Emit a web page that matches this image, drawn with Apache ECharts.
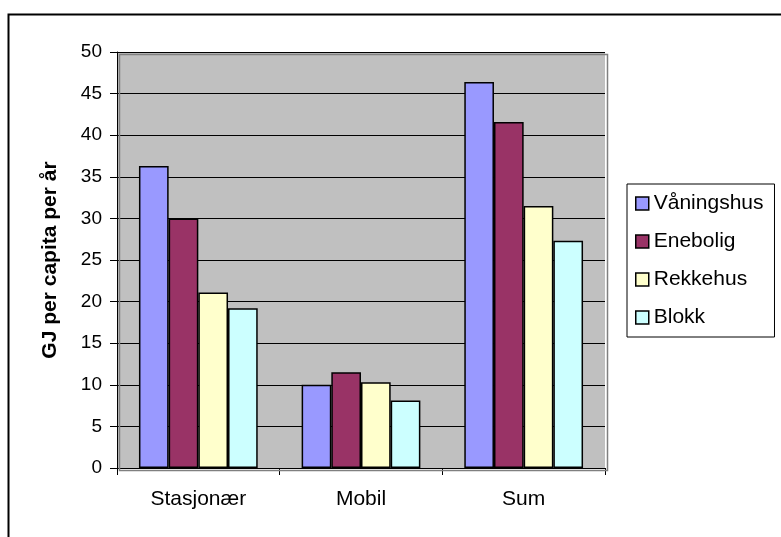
<!DOCTYPE html>
<html>
<head>
<meta charset="utf-8">
<script src="https://cdn.jsdelivr.net/npm/echarts@6/dist/echarts.min.js"></script>
<style>html,body{margin:0;padding:0;background:#fff;}#c{width:781px;height:537px;}</style>
</head>
<body>
<div id="c"></div>
<script>
const categories = ['Stasjonær', 'Mobil', 'Sum'];
const seriesNames = ['Våningshus', 'Enebolig', 'Rekkehus', 'Blokk'];
const vaaningshus = [36.3, 10.0, 46.4];
const enebolig = [30.0, 11.5, 41.6];
const rekkehus = [21.1, 10.3, 31.5];
const blokk = [19.2, 8.1, 27.3];
const seriesValues = [vaaningshus, enebolig, rekkehus, blokk];
const colors = ['#9999FF', '#993366', '#FFFFCC', '#CCFFFF'];
const yAxisName = 'GJ per capita per år';

const FONT = 'Arial, "Liberation Sans", sans-serif';
const chart = echarts.init(document.getElementById('c'), null, {renderer: 'canvas'});
const option = {
  animation: false,
  backgroundColor: '#ffffff',
  textStyle: {fontFamily: FONT},
  graphic: [
    {type: 'rect', left: 6, top: 12, shape: {width: 800, height: 600},
     style: {fill: 'none', stroke: '#000', lineWidth: 2}, silent: true, z: 0},
    {type: 'rect', left: 117, top: 52, shape: {width: 488, height: 416},
     style: {fill: 'none', stroke: '#808080', lineWidth: 1.5}, silent: true, z: 1}
  ],
  grid: {left: 117, top: 52, width: 488, height: 416, show: true,
         backgroundColor: '#C0C0C0', borderWidth: 0},
  legend: {
    orient: 'vertical', left: 627, top: 184,
    padding: [9, 11, 9, 8],
    itemGap: 17, itemWidth: 13, itemHeight: 13,
    backgroundColor: '#fff', borderColor: '#000', borderWidth: 1,
    textStyle: {fontSize: 21, color: '#000', fontFamily: FONT, padding: [0, 0, 0, 0]},
    itemStyle: {borderColor: '#000', borderWidth: 1.5},
    icon: 'rect',
    data: seriesNames
  },
  xAxis: {
    type: 'category', data: categories, boundaryGap: true,
    axisLine: {lineStyle: {color: '#000', width: 1}},
    axisTick: {show: true, length: 7, lineStyle: {color: '#000'}},
    axisLabel: {fontSize: 21, color: '#000', margin: 21, fontFamily: FONT},
    splitLine: {show: false}
  },
  yAxis: {
    type: 'value', min: 0, max: 50, interval: 5,
    name: yAxisName, nameLocation: 'middle', nameGap: 56, nameRotate: 90,
    nameTextStyle: {fontSize: 21, fontWeight: 'bold', color: '#000', fontFamily: FONT},
    axisLine: {show: true, lineStyle: {color: '#000', width: 1}},
    axisTick: {show: true, length: 7, lineStyle: {color: '#000'}},
    axisLabel: {fontSize: 19, color: '#000', margin: 15, fontFamily: FONT},
    splitLine: {show: true, lineStyle: {color: '#000', width: 1}}
  },
  series: seriesNames.map((n, i) => ({
    name: n, type: 'bar', data: seriesValues[i],
    barGap: '0%', barCategoryGap: '27%',
    itemStyle: {color: colors[i], borderColor: '#000', borderWidth: 1.5}
  }))
};
chart.setOption(option);
</script>
</body>
</html>
